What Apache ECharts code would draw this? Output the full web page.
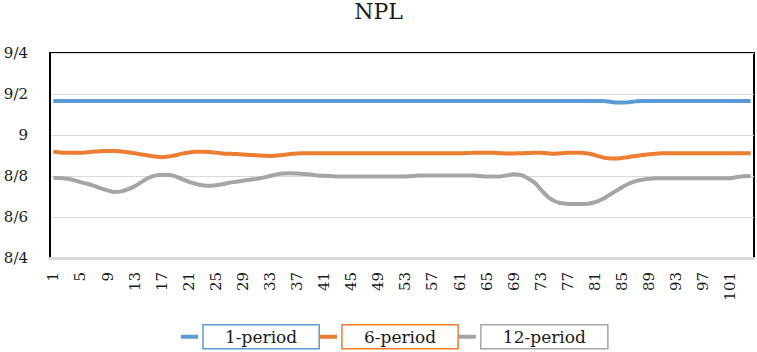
<!DOCTYPE html>
<html>
<head>
<meta charset="utf-8">
<script src="https://cdn.jsdelivr.net/npm/echarts@6/dist/echarts.min.js"></script>
<style>
  html, body { margin: 0; padding: 0; background: #fff; }
  #chart { width: 757px; height: 352px; }
</style>
</head>
<body>
<div id="chart"></div>
<script>
// categories 1..104
const periods = Array.from({length: 104}, (_, i) => String(i + 1))
const yTickLabels = ['8/4', '8/6', '8/8', '9', '9/2', '9/4']
const seriesNames = ['1-period', '6-period', '12-period']
const seriesColors = ['#5b9bd5', '#ed7d31', '#a5a5a5']

const period1 = [
  9.166, 9.166, 9.166, 9.166, 9.166, 9.166, 9.166, 9.166, 9.166, 9.166,
  9.166, 9.166, 9.166, 9.166, 9.166, 9.166, 9.166, 9.166, 9.166, 9.166,
  9.166, 9.166, 9.166, 9.166, 9.166, 9.166, 9.166, 9.166, 9.166, 9.166,
  9.166, 9.166, 9.166, 9.166, 9.166, 9.166, 9.166, 9.166, 9.166, 9.166,
  9.166, 9.166, 9.166, 9.166, 9.166, 9.166, 9.166, 9.166, 9.166, 9.166,
  9.166, 9.166, 9.166, 9.166, 9.166, 9.166, 9.166, 9.166, 9.166, 9.166,
  9.166, 9.166, 9.166, 9.166, 9.166, 9.166, 9.166, 9.166, 9.166, 9.166,
  9.166, 9.166, 9.166, 9.166, 9.166, 9.166, 9.166, 9.166, 9.166, 9.166,
  9.166, 9.166, 9.163, 9.159, 9.158, 9.160, 9.164, 9.166, 9.166, 9.166,
  9.166, 9.166, 9.166, 9.166, 9.166, 9.166, 9.166, 9.166, 9.166, 9.166,
  9.166, 9.166, 9.166, 9.166
]

const period6 = [
  8.918, 8.915, 8.914, 8.914, 8.914, 8.916, 8.919, 8.921, 8.922, 8.922,
  8.920, 8.916, 8.911, 8.905, 8.900, 8.895, 8.892, 8.895, 8.901, 8.909,
  8.915, 8.918, 8.918, 8.917, 8.914, 8.910, 8.908, 8.907, 8.905, 8.903,
  8.901, 8.899, 8.898, 8.900, 8.903, 8.907, 8.910, 8.911, 8.911, 8.911,
  8.911, 8.911, 8.911, 8.911, 8.911, 8.911, 8.911, 8.911, 8.911, 8.911,
  8.911, 8.911, 8.911, 8.911, 8.911, 8.911, 8.911, 8.911, 8.911, 8.911,
  8.911, 8.912, 8.913, 8.914, 8.914, 8.913, 8.911, 8.910, 8.910, 8.911,
  8.912, 8.913, 8.913, 8.911, 8.909, 8.911, 8.914, 8.914, 8.913, 8.910,
  8.902, 8.892, 8.886, 8.885, 8.888, 8.893, 8.898, 8.902, 8.906, 8.909,
  8.911, 8.911, 8.911, 8.911, 8.911, 8.911, 8.911, 8.911, 8.911, 8.911,
  8.911, 8.911, 8.911, 8.911
]

const period12 = [
  8.792, 8.790, 8.787, 8.780, 8.770, 8.762, 8.752, 8.740, 8.730, 8.722,
  8.725, 8.735, 8.750, 8.770, 8.790, 8.802, 8.806, 8.805, 8.798, 8.785,
  8.772, 8.762, 8.755, 8.752, 8.755, 8.760, 8.767, 8.772, 8.777, 8.782,
  8.786, 8.792, 8.800, 8.808, 8.812, 8.813, 8.812, 8.810, 8.807, 8.803,
  8.801, 8.800, 8.797, 8.797, 8.797, 8.797, 8.797, 8.797, 8.797, 8.797,
  8.797, 8.797, 8.798, 8.800, 8.803, 8.803, 8.803, 8.803, 8.803, 8.803,
  8.803, 8.803, 8.802, 8.800, 8.797, 8.797, 8.798, 8.803, 8.808, 8.805,
  8.790, 8.770, 8.735, 8.700, 8.678, 8.668, 8.664, 8.663, 8.663, 8.665,
  8.672, 8.685, 8.705, 8.725, 8.745, 8.762, 8.775, 8.782, 8.786, 8.789,
  8.789, 8.789, 8.789, 8.789, 8.789, 8.789, 8.789, 8.789, 8.789, 8.789,
  8.789, 8.795, 8.799, 8.800
]

const serif = 'DejaVu Serif'
// svg renderer: the canvas one dropped the black frame lines
const chart = echarts.init(document.getElementById('chart'), null, { renderer: 'svg' })

const makeLine = (name, data, color) => ({
  name: name,
  type: 'line',
  data: data,
  smooth: true,
  symbol: 'none',
  lineStyle: { color: color, width: 4 },
  itemStyle: { color: color }
})

chart.setOption({
  animation: false,
  title: {
    text: 'NPL',
    left: 'center',
    top: 0,
    padding: 0,
    textStyle: { fontFamily: serif, fontSize: 22, fontWeight: 'normal', color: '#1a1a1a' }
  },
  // black frame of the plot area; its bottom edge is covered by the grey x axis line
  grid: { left: 50, right: 3, top: 53, bottom: 94, show: true, borderColor: '#000', borderWidth: 2 },
  legend: {
    left: 176,
    top: 319,
    itemGap: 0,
    itemWidth: 17,
    itemHeight: 4,
    icon: 'rect',
    textStyle: { fontFamily: serif, fontSize: 17, color: '#1a1a1a', lineHeight: 20 },
    data: seriesNames.map((n, i) => ({
      name: n,
      textStyle: { borderColor: seriesColors[i], borderWidth: 1.5, padding: [2, 22] }
    }))
  },
  xAxis: {
    type: 'category',
    data: periods,
    boundaryGap: true,
    axisLine: { lineStyle: { color: '#d9d9d9', width: 3 } },
    axisTick: { show: false },
    axisLabel: {
      interval: 3,
      rotate: 90,
      margin: 14,
      fontFamily: serif,
      fontSize: 15,
      color: '#1a1a1a'
    }
  },
  yAxis: {
    type: 'value',
    min: 8.4,
    max: 9.4,
    interval: 0.2,
    axisLine: { show: true, lineStyle: { color: '#000', width: 2 } },
    axisTick: { show: false },
    splitLine: { show: true, lineStyle: { color: '#d9d9d9', width: 1 } },
    axisLabel: {
      margin: 22,
      fontFamily: serif,
      fontSize: 15,
      color: '#1a1a1a',
      formatter: (v) => yTickLabels[Math.round((v - 8.4) / 0.2)]
    }
  },
  series: [
    makeLine(seriesNames[0], period1, seriesColors[0]),
    makeLine(seriesNames[1], period6, seriesColors[1]),
    makeLine(seriesNames[2], period12, seriesColors[2])
  ]
})
</script>
</body>
</html>
